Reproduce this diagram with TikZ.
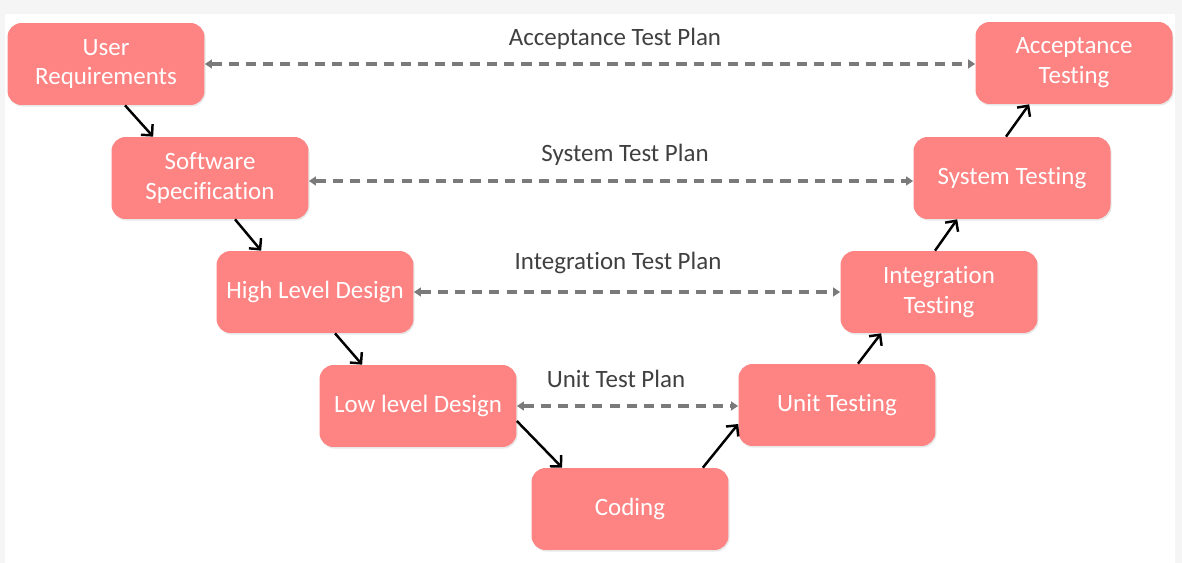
\documentclass[tikz,border=0pt]{standalone}
\usepackage{fontspec}
\setmainfont[RawFeature={-liga;-clig;-calt;-dlig}]{Carlito}
\usepackage{tikz}
\usetikzlibrary{arrows.meta,shadows}
\definecolor{boxpink}{HTML}{FE8383}
\definecolor{plangray}{HTML}{7A7A7A}
\definecolor{labelgray}{HTML}{404040}

\begin{document}
\begin{tikzpicture}[x=0.02cm, y=-0.02cm,
		phase/.style={draw=none, fill=boxpink, rounded corners=8pt, minimum width=3.94cm, minimum height=1.64cm, align=center, text=white, font=\fontsize{14.2}{17}\selectfont, drop shadow={opacity=0.18, shadow xshift=0.6pt, shadow yshift=-0.9pt}},
		flow/.style={line width=1.4pt, -{Straight Barb[length=4.5pt, width=9pt]}},
		plan/.style={plangray, line width=1.9pt, dash pattern=on 5.8pt off 4pt, {Triangle[length=4pt, width=5pt]}-{Triangle[length=4pt, width=5pt]}},
		planlabel/.style={text=labelgray, font=\fontsize{14.2}{17}\selectfont}]
				\useasboundingbox (0,0) rectangle (1182,563);
				\fill[black!4] (0,0) rectangle (1182,563);
				\fill[white] (5,14) rectangle (1175,563);
				\node[phase] (ureq) at (106,64) {User\\Requirements};
				\node[phase] (sspec) at (210,178) {Software\\Specification};
				\node[phase] (hld) at (315,292) {High Level Design};
				\node[phase] (lld) at (418,406) {Low level Design};
				\node[phase] (coding) at (630,509) {Coding};
				\node[phase] (utest) at (837,405) {Unit Testing};
				\node[phase] (itest) at (939,292) {Integration\\Testing};
				\node[phase] (stest) at (1012,178) {System Testing};
				\node[phase] (atest) at (1074,63) {Acceptance\\Testing};
				\draw[flow] ([xshift=0.38cm]ureq.south) -- ([xshift=0.84cm]sspec.north west);
				\draw[flow] ([xshift=0.5cm]sspec.south) -- ([xshift=0.9cm]hld.north west);
				\draw[flow] ([xshift=0.4cm]hld.south) -- ([xshift=0.86cm]lld.north west);
				\draw[flow] ([yshift=-0.3cm]lld.east) -- ([xshift=0.62cm]coding.north west);
				\draw[flow] ([xshift=-0.52cm]coding.north east) -- ([yshift=-0.38cm]utest.west);
				\draw[flow] ([xshift=0.42cm]utest.north) -- ([xshift=0.82cm]itest.south west);
				\draw[flow] ([xshift=-0.08cm]itest.north) -- ([xshift=0.88cm]stest.south west);
				\draw[flow] ([xshift=-0.12cm]stest.north) -- ([xshift=1.08cm]atest.south west);
				\draw[plan] (ureq.east) -- (atest.west |- ureq.east);
				\draw[plan] ([yshift=-0.06cm]sspec.east) -- ([yshift=-0.06cm]stest.west);
				\draw[plan] (hld.east) -- (itest.west);
				\draw[plan] (lld.east) -- (utest.west |- lld.east);
				\node[planlabel] (atp) at (615,39) {Acceptance Test Plan};
				\node[planlabel] (stp) at (625,155) {System Test Plan};
				\node[planlabel] (itp) at (618,263) {Integration Test Plan};
				\node[planlabel] (utp) at (616,379) {Unit Test Plan};
			\end{tikzpicture}
\end{document}
